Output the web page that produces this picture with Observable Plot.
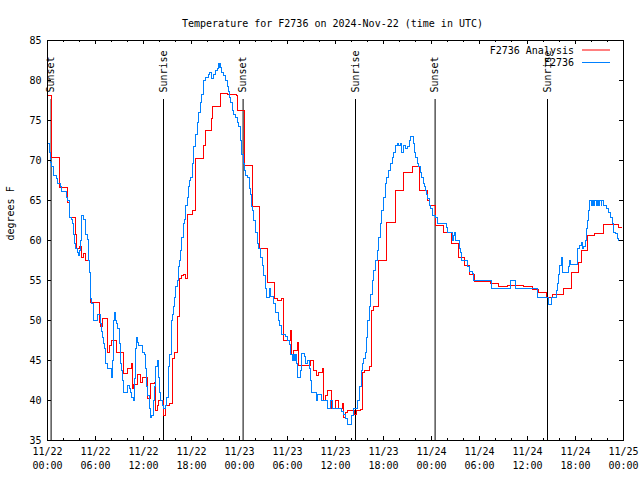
<!DOCTYPE html>
<html><head><meta charset="utf-8">
<script src="https://cdn.jsdelivr.net/npm/d3@7"></script>
<script src="https://cdn.jsdelivr.net/npm/@observablehq/plot@0.6"></script>
<style>body{margin:0;background:#fff}</style>
</head><body><div id="chart"></div>
<script>
const chartTitle = "Temperature for F2736 on 2024-Nov-22 (time in UTC)";
const yLabel = "degrees F";
const seriesNames = ["F2736 Analysis", "F2736"];
const seriesColors = ["#ff0000", "#0080ff"];

// hours since 11/22 00:00 UTC
const anaHours = [0,0.55,1.55,2.5,2.7,3.5,3.6,4.0,4.2,4.5,4.75,5.2,5.4,6.5,6.6,6.9,7.5,7.7,8.0,8.6,9.5,10.0,10.5,10.6,10.8,11.2,11.6,11.9,12.5,12.9,13.4,13.5,13.7,13.9,14.5,14.75,15.2,15.6,15.9,16.3,16.5,16.7,16.95,17.2,17.5,18.1,18.5,19.5,19.7,20.5,20.6,21.6,22.5,23.6,23.8,24.6,25.6,26.5,27.5,28.4,28.7,29.2,29.5,30.4,30.5,30.7,31.2,31.4,32.9,33.3,33.6,33.9,34.4,34.5,34.75,35.0,35.5,36.0,36.4,36.9,37.0,37.3,37.5,38.4,38.6,39.1,39.4,39.6,40.3,40.55,40.7,41.4,42.4,43.5,44.5,45.6,46.5,47.5,47.7,48.5,49.5,50.5,51.4,52.1,52.7,53.4,55.4,56.4,57.5,59.5,60.6,61.4,62.4,63.1,64.5,65.5,66.4,66.7,67.5,68.4,69.5,71.4,71.8];
const anaTemps = [78.1,70.4,66.6,64.8,62.9,60.8,59.0,59.3,57.9,58.4,57.5,56.0,52.2,49.8,49.2,50.2,46.0,46.9,47.5,46.0,43.4,44.0,44.6,41.5,42.0,43.3,42.3,42.9,40.2,42.1,42.3,38.75,39.4,40.0,38.1,39.4,39.6,45.2,46.0,50.5,55.2,55.6,55.8,55.2,63.3,63.75,70.2,71.9,73.75,75.2,76.75,78.4,78.3,78.1,76.25,69.4,64.2,59.0,54.8,52.7,52.5,52.7,47.5,48.75,45.8,46.2,47.3,44.4,45.0,43.75,43.1,43.5,44.0,40.0,40.6,41.25,39.0,40.0,39.0,39.6,37.9,38.5,38.75,38.3,38.75,38.9,43.5,43.75,44.2,51.25,51.7,57.5,62.3,66.25,68.5,69.25,66.3,65.0,64.4,61.9,61.0,59.6,57.9,56.9,55.8,54.9,54.6,54.2,54.4,54.2,53.9,53.5,52.9,53.2,54.0,56.0,57.3,58.75,60.6,60.9,62.0,61.6,61.6];

const obsHours = [0,0.2,0.375,0.45,0.8,1.1,1.3,1.6,1.7,2.4,2.55,2.7,2.8,3.0,3.1,3.2,3.3,3.4,3.55,3.8,3.9,4.0,4.1,4.2,4.3,4.5,4.7,4.8,5.0,5.1,5.2,5.4,5.55,5.7,5.8,6.3,6.6,6.75,6.9,7.0,7.1,7.2,7.3,7.45,7.96,8.1,8.2,8.3,8.4,8.5,8.65,8.8,9.0,9.1,9.25,9.35,9.5,10.0,10.2,10.4,10.55,10.7,10.85,10.95,11.05,11.15,11.25,11.35,11.9,12.1,12.3,12.4,12.55,12.7,12.9,13.05,13.2,13.4,13.55,13.7,13.85,14.0,14.1,14.4,14.5,14.75,14.9,15.1,15.3,15.45,15.55,15.65,15.8,15.9,16.05,16.2,16.35,16.5,16.6,16.8,17.0,17.15,17.3,17.45,17.6,17.75,17.875,18.1,18.3,18.5,18.7,18.9,19.1,19.3,19.5,19.8,20.1,20.3,20.5,20.75,21.0,21.2,21.4,21.5,21.55,21.6,21.75,22.0,22.2,22.45,22.6,22.7,22.9,23.1,23.3,23.5,23.7,23.9,24.1,24.2,24.3,24.45,24.6,24.7,25.0,25.2,25.3,25.4,25.45,25.6,25.8,26.0,26.2,26.35,26.6,26.9,27.0,27.2,27.4,27.7,27.8,27.9,28.2,28.3,28.5,28.9,29.0,29.2,29.3,29.7,29.96,30.2,30.4,30.6,30.7,30.85,31.0,31.1,31.3,31.6,31.75,32.1,32.2,32.5,32.7,32.85,33.0,33.6,33.8,34.2,34.3,35.0,35.4,35.6,36.8,37.0,37.25,37.5,38.05,38.3,38.8,39.05,39.2,39.4,39.5,39.75,39.9,40.0,40.2,40.4,40.6,40.8,41.0,41.2,41.4,41.6,41.8,42.0,42.2,42.4,42.6,42.9,43.1,43.3,43.5,43.7,43.9,44.1,44.3,44.5,44.75,44.95,45.2,45.4,45.7,45.85,46.0,46.2,46.4,46.6,46.8,47.0,47.1,47.25,47.4,47.5,47.7,47.9,48.1,48.45,48.7,49.9,50.0,50.6,50.8,50.9,51.0,51.5,51.6,51.8,52.5,52.7,53.1,53.2,55.5,57.9,58.45,61.2,62.6,63.0,63.6,63.8,63.9,64.05,64.2,64.35,65.1,65.3,65.4,66.3,66.5,66.7,66.9,67.0,67.3,67.4,67.5,67.6,67.7,67.8,68.0,68.1,68.3,68.4,68.6,68.7,68.9,69.0,69.2,69.3,69.5,69.9,70.1,70.4,70.6,70.8,71.0,71.2,71.4,71.7];
const obsTemps = [72.1,71.0,69.8,69.2,68.1,67.8,67.1,66.7,66.1,65.4,65.0,63.5,62.9,62.6,62.1,61.5,60.8,59.6,59.0,58.5,58.1,58.8,60.0,61.5,63.1,62.6,61.6,60.8,60.1,57.5,56.0,52.7,52.1,50.8,50.0,50.8,49.6,48.6,47.9,47.1,46.5,45.9,44.6,44.0,42.9,45.0,46.5,50.0,51.0,50.0,49.6,49.0,47.1,44.6,43.75,42.5,41.0,41.9,41.5,41.0,40.4,40.0,42.7,45.4,46.5,47.9,47.3,46.9,46.0,45.8,44.0,41.7,40.6,39.0,37.9,38.1,40.0,41.7,44.2,45.0,42.9,41.0,40.0,39.4,39.0,39.4,40.4,44.2,45.8,49.2,50.0,50.8,51.7,52.9,54.2,55.0,56.7,57.5,58.75,60.4,62.1,62.6,64.4,65.4,66.7,67.5,67.9,69.6,71.7,73.3,74.8,76.0,77.3,78.3,80.0,80.4,80.8,81.0,80.2,80.8,81.25,81.5,82.1,81.6,82.1,81.6,81.0,80.6,80.0,79.2,78.6,77.9,77.3,76.25,75.8,75.4,74.8,74.2,72.5,71.3,70.8,69.6,68.8,68.1,67.9,67.1,66.5,65.8,64.2,63.75,62.5,61.0,59.6,59.0,57.9,56.9,55.6,54.0,52.9,53.1,54.0,53.0,52.7,52.1,51.0,50.0,49.4,48.7,48.3,48.0,47.5,47.0,45.8,45.0,45.8,45.0,45.8,44.6,42.9,43.75,45.9,45.5,44.6,45.0,44.0,42.5,41.0,40.0,40.8,40.4,40.0,39.0,40.0,39.0,38.6,38.3,37.7,37.0,38.1,39.0,40.0,41.7,43.75,44.6,45.2,46.0,47.9,50.0,51.7,53.3,55.0,56.25,57.5,58.75,60.4,62.1,63.75,65.4,67.1,67.9,68.75,69.6,70.4,71.0,71.9,72.1,71.9,72.1,71.0,71.9,71.5,71.7,72.5,73.0,72.1,71.0,70.4,69.6,69.2,68.5,67.9,67.1,66.7,66.3,65.8,65.2,64.4,64.0,63.1,62.9,62.1,61.6,61.0,60.0,60.6,61.0,60.0,59.0,58.5,57.5,56.7,56.1,55.9,55.0,54.0,55.0,54.0,52.9,52.0,52.9,53.75,54.6,55.8,56.9,57.9,56.0,56.7,57.5,57.0,59.0,59.4,59.8,59.0,59.2,60.0,61.5,62.5,63.75,64.6,65.0,64.4,65.0,64.4,65.0,64.4,65.0,64.4,65.0,64.4,65.0,64.4,64.0,63.5,62.9,62.1,61.0,60.9,60.2,60.0,60.0];

const sunEvents = ["Sunset","Sunrise","Sunset","Sunrise","Sunset","Sunrise"];
const sunHours = [0.45,14.5,24.45,38.5,48.45,62.5];

const xTickHours = [0,6,12,18,24,30,36,42,48,54,60,66,72];
const xTickLabels = ["11/22\n00:00","11/22\n06:00","11/22\n12:00","11/22\n18:00","11/23\n00:00","11/23\n06:00","11/23\n12:00","11/23\n18:00","11/24\n00:00","11/24\n06:00","11/24\n12:00","11/24\n18:00","11/25\n00:00"];
const xMinorHours = [2,4,8,10,14,16,20,22,26,28,32,34,38,40,44,46,50,52,56,58,62,64,68,70];
const yTicks = [35,40,45,50,55,60,65,70,75,80,85];

const ana = anaHours.map((h, i) => ({h, t: anaTemps[i]}));
const obs = obsHours.map((h, i) => ({h, t: obsTemps[i]}));

const FONT = "DejaVu Sans Mono";

function legendMark(index, scales, values, dims) {
  const g = d3.create("svg:g").attr("font-family", FONT).attr("font-size", 10);
  const xr = dims.width - dims.marginRight - 13;
  seriesNames.forEach((name, i) => {
    const y = dims.marginTop + 10 + i * 12.5;
    g.append("text").attr("x", xr - 36).attr("y", y).attr("dy", "0.35em")
      .attr("text-anchor", "end").attr("fill", "black").text(name);
    g.append("line").attr("x1", xr - 28).attr("x2", xr).attr("y1", y).attr("y2", y)
      .attr("stroke", seriesColors[i]).attr("stroke-width", 1);
  });
  return g.node();
}

const chart = Plot.plot({
  width: 640, height: 480,
  marginLeft: 47, marginRight: 17, marginTop: 40, marginBottom: 40,
  style: {fontFamily: FONT, fontSize: "10px", background: "white", color: "black", overflow: "visible"},
  x: {domain: [0, 72], axis: null},
  y: {domain: [35, 85], axis: null},
  marks: [
    Plot.ruleX(sunHours, {x: d => d, insetTop: 59, stroke: "black", strokeWidth: 1}),
    Plot.text(sunHours, {x: d => d, text: (d, i) => sunEvents[i], frameAnchor: "top", dy: 52,
      rotate: -90, textAnchor: "start", lineAnchor: "middle", fill: "black", fontSize: 10}),
    Plot.line(ana, {x: "h", y: "t", curve: "step-after", stroke: seriesColors[0], strokeWidth: 1.1, shapeRendering: "crispEdges"}),
    Plot.line(obs, {x: "h", y: "t", curve: "step-after", stroke: seriesColors[1], strokeWidth: 1.1, shapeRendering: "crispEdges"}),
    Plot.frame({stroke: "black", strokeWidth: 1}),
    Plot.tickX(xTickHours, {x: d => d, insetTop: 396, stroke: "black"}),
    Plot.tickX(xTickHours, {x: d => d, insetBottom: 396, stroke: "black"}),
    Plot.tickX(xMinorHours, {x: d => d, insetTop: 398, stroke: "black"}),
    Plot.tickX(xMinorHours, {x: d => d, insetBottom: 398, stroke: "black"}),
    Plot.tickY(yTicks, {y: d => d, insetRight: 572, stroke: "black"}),
    Plot.tickY(yTicks, {y: d => d, insetLeft: 572, stroke: "black"}),
    Plot.axisX(xTickHours, {tickSize: 0, tickPadding: 4, label: null, lineHeight: 1.45,
      tickFormat: d => xTickLabels[xTickHours.indexOf(d)], fontSize: 10}),
    Plot.axisY(yTicks, {tickSize: 0, tickPadding: 6, label: null, fontSize: 10}),
    Plot.text([yLabel], {frameAnchor: "left", dx: -37, rotate: -90, fill: "black", fontSize: 10}),
    Plot.text([chartTitle], {frameAnchor: "top", dy: -21, dx: -3, fill: "black", fontSize: 10}),
    legendMark
  ]
});
document.getElementById("chart").appendChild(chart);
</script>
</body></html>
